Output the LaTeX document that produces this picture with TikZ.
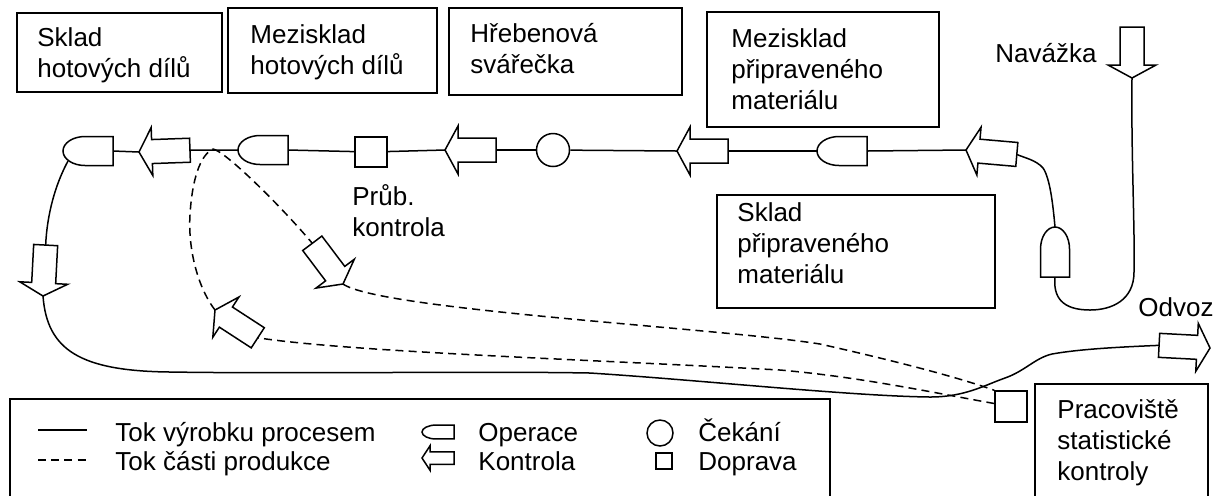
\documentclass[tikz,border=0pt]{standalone}
\usepackage{fontspec}
\setmainfont{Liberation Sans}
\usetikzlibrary{calc}
\pgfdeclarelayer{bg}
\pgfsetlayers{bg,main}
\begin{document}
\begin{tikzpicture}[x=0.5pt,y=-0.5pt,
  lw/.style={line width=0.75pt},
  sym/.style={draw,lw,fill=white},
  flow/.style={draw,lw},
  part/.style={draw,lw,dash pattern=on 4pt off 2.6pt},
  box/.style={draw,lw,inner sep=0pt},
  txt/.style={inner sep=0pt,anchor=base west,align=left,font=\fontsize{13}{15.5}\selectfont},
  kontr/.pic={
    \path[sym] (0,0) -- (13,-24) -- (13,-12) -- (51,-12) -- (51,12) -- (13,12) -- (13,24) -- cycle;
    \coordinate (-tip) at (0,0);
    \coordinate (-tail) at (51,0);
  },
  oper/.pic={
    \path[sym] (50,-14.5) -- (22,-14.5) .. controls (9.85,-14.5) and (0,-8) .. (0,0)
      .. controls (0,8) and (9.85,14.5) .. (22,14.5) -- (50,14.5) -- cycle;
    \coordinate (-l) at (0,0);
    \coordinate (-r) at (50,0);
    \coordinate (-lo) at (5,10);
  }]
\useasboundingbox (0,0) rectangle (1229,495);
\clip (0,0) rectangle (1229,495);

% boxes
\node[box,minimum width=102.5pt,minimum height=39.5pt] (b1) at (119.5,52.5) {};
\node[box,minimum width=104.5pt,minimum height=42.5pt] (b2) at (332.5,50.5) {};
\node[box,minimum width=116.5pt,minimum height=43.5pt] (b3) at (565.5,51.5) {};
\node[box,minimum width=116pt,minimum height=57.5pt] (b4) at (823,69.5) {};
\node[box,minimum width=139pt,minimum height=56.5pt] (b5) at (856,251.5) {};
\node[box,minimum width=86.5pt,minimum height=58pt] (b6) at (1121.5,442) {};
\node[box,minimum width=410pt,minimum height=50.5pt] (leg) at (420,449.5) {};

% texts (base anchor = last line's baseline)
\node[txt] (t1) at (37,77) {Sklad\\hotových dílů};
\node[txt] (t2) at (250,74) {Mezisklad\\hotových dílů};
\node[txt] (t3) at (470,73) {Hřebenová\\svářečka};
\node[txt] (t4) at (731,109) {Mezisklad\\připraveného\\materiálu};
\node[txt] (t5) at (737,283) {Sklad\\připraveného\\materiálu};
\node[txt] (t6) at (352,236) {Průb.\\kontrola};
\node[txt] (t7) at (995,62) {Navážka};
\node[txt] (t8) at (1138,316) {Odvoz};
\node[txt] (t9) at (1057,480) {Pracoviště\\statistické\\kontroly};

% symbols
\pic[rotate=90] (nav) at (1132,78) {kontr};
\pic[rotate=-90] (o4) at (1055,227) {oper};
\pic[rotate=-5] (a1) at (966,150) {kontr};
\pic (o3) at (817,151) {oper};
\pic (a2) at (677,151) {kontr};
\node[circle,draw,lw,fill=white,minimum size=16.5pt,inner sep=0pt] (c1) at (553,150) {};
\pic (a3) at (445,150) {kontr};
\node[draw,lw,fill=white,minimum width=16pt,minimum height=15pt,inner sep=0pt] (s1) at (371,152) {};
\pic (o2) at (238,150) {oper};
\pic[rotate=2] (a4) at (139,152) {kontr};
\pic (o1) at (63,151) {oper};
\pic[rotate=87] (av) at (43,296) {kontr};
\pic[rotate=177] (odv) at (1210,348) {kontr};
\pic[rotate=127] (a6) at (343,284) {kontr};
\pic[rotate=-33] (a5) at (215,310) {kontr};
\node[draw,lw,fill=white,minimum width=16pt,minimum height=15.5pt,inner sep=0pt] (s2) at (1011,406.5) {};
\coordinate (sp) at (213,149);

\begin{pgfonlayer}{bg}
\draw[flow] (nav-tip) .. controls (1131,150) and (1135,230) .. (1134,272)
  .. controls (1134,300) and (1112,310) .. (1090,310)
  .. controls (1062,310) and (1053,297) .. (o4-r);
\draw[flow] (o4-l) .. controls (1053,205) and (1050,178) .. (1043,168)
  .. controls (1036,160) and (1025,158) .. (a1-tail);
\draw[flow] (a1-tip) -- (o3-r);
\draw[flow] (o3-l) -- (a2-tail);
\draw[flow] (a2-tip) -- (c1);
\draw[flow] (c1) -- (a3-tail);
\draw[flow] (a3-tip) -- (s1);
\draw[flow] (s1) -- (o2-r);
\draw[flow] (o2-l) -- (a4-tail);
\draw[flow] (a4-tip) -- (o1-r);
\draw[flow] (o1-lo) .. controls (55,185) and (47,215) .. (av-tail);
\draw[flow] (av-tip) .. controls (47,350) and (80,371) .. (170,372)
  .. controls (300,374) and (480,371) .. (590,373)
  .. controls (700,380) and (850,396) .. (930,397)
  .. controls (965,397) and (985,385) .. (1005,378)
  .. controls (1025,371) and (1035,358) .. (1052,354)
  .. controls (1080,349) and (1120,347) .. (odv-tail);
% dashed
\draw[part] (sp) .. controls (225,151) and (280,205) .. (a6-tail);
\draw[part] (a6-tip) .. controls (380,310) and (720,328) .. (820,344)
  .. controls (900,362) and (960,378) .. (s2.north west);
\draw[part] ($(s2.west)+(0,-3)$) .. controls (930,392) and (860,377) .. (780,370)
  .. controls (600,360) and (350,352) .. (a5-tail);
\draw[part] (a5-tip) .. controls (196,285) and (188,245) .. (190,215)
  .. controls (192,180) and (200,155) .. (sp);
\end{pgfonlayer}

% legend
\coordinate (ls1) at (38,430);
\coordinate (ls2) at (87,430);
\coordinate (ld1) at (38,460);
\coordinate (ld2) at (87,460);
\draw[flow] (ls1) -- (ls2);
\draw[part] (ld1) -- (ld2);
\node[txt] (l1) at (115,441) {Tok výrobku procesem};
\node[txt] (l2) at (115,470) {Tok části produkce};
\pic[xscale=0.64,yscale=0.48] (lo) at (422,432) {oper};
\pic[xscale=0.63,yscale=0.52] (lk) at (422,458) {kontr};
\node[txt] (l3) at (478,441) {Operace};
\node[txt] (l4) at (478,470) {Kontrola};
\node[circle,draw,lw,minimum size=13pt,inner sep=0pt] (lc) at (660,433) {};
\node[draw,lw,minimum size=8pt,inner sep=0pt] (lsq) at (664,461) {};
\node[txt] (l5) at (698,441) {Čekání};
\node[txt] (l6) at (698,470) {Doprava};
\end{tikzpicture}
\end{document}
